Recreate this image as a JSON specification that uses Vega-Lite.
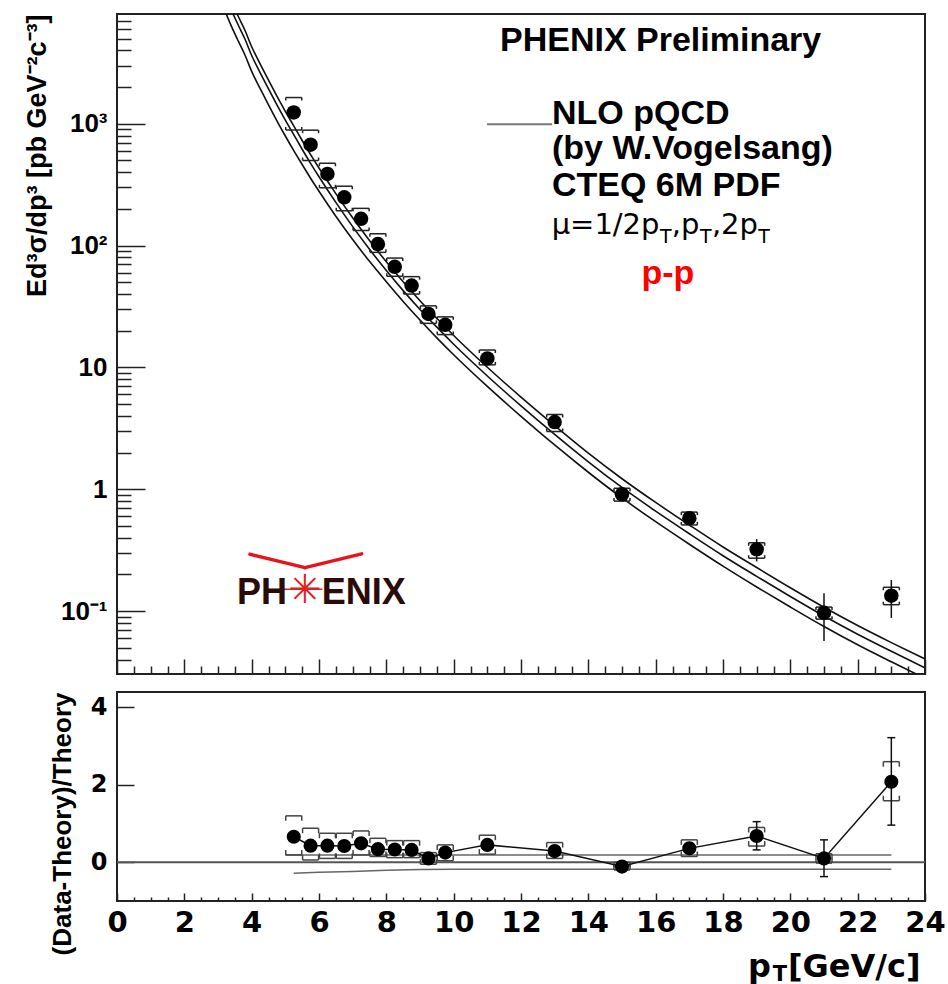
{
  "$schema": "https://vega.github.io/schema/vega-lite/v6.json",
  "padding": {"left": 21, "top": 13, "right": 5, "bottom": 5},
  "background": "white",
  "spacing": 15,
  "config": {
    "view": {"stroke": "#222", "strokeWidth": 2},
    "axis": {"domain": false, "grid": false, "tickColor": "#222", "tickWidth": 1.5, "labelColor": "#000", "titleColor": "#000"}
  },
  "datasets": {
    "theory": [
      {"pt": 3.2, "lo": 8497, "mid": 11482, "hi": 13549},
      {"pt": 3.4, "lo": 6298, "mid": 8511, "hi": 10043},
      {"pt": 3.6, "lo": 4778, "mid": 6457, "hi": 7619},
      {"pt": 3.8, "lo": 3667, "mid": 4955, "hi": 5847},
      {"pt": 4.0, "lo": 2687, "mid": 3631, "hi": 4285},
      {"pt": 4.25, "lo": 1946, "mid": 2630, "hi": 3103},
      {"pt": 4.5, "lo": 1427, "mid": 1928, "hi": 2275},
      {"pt": 4.75, "lo": 1057, "mid": 1429, "hi": 1686},
      {"pt": 5.0, "lo": 793, "mid": 1072, "hi": 1265},
      {"pt": 5.25, "lo": 602, "mid": 813, "hi": 959},
      {"pt": 5.5, "lo": 463, "mid": 617, "hi": 728},
      {"pt": 5.75, "lo": 357, "mid": 473, "hi": 558},
      {"pt": 6.0, "lo": 279, "mid": 367, "hi": 433},
      {"pt": 6.5, "lo": 174, "mid": 226, "hi": 267},
      {"pt": 7.0, "lo": 112, "mid": 143, "hi": 169},
      {"pt": 7.5, "lo": 74.2, "mid": 93.3, "hi": 110},
      {"pt": 8.0, "lo": 50.5, "mid": 62.4, "hi": 73.6},
      {"pt": 8.5, "lo": 34.8, "mid": 42.7, "hi": 50.4},
      {"pt": 9.0, "lo": 24.5, "mid": 29.9, "hi": 35.3},
      {"pt": 9.5, "lo": 17.5, "mid": 21.4, "hi": 25.3},
      {"pt": 10, "lo": 12.7, "mid": 15.5, "hi": 18.3},
      {"pt": 11, "lo": 6.98, "mid": 8.51, "hi": 10.04},
      {"pt": 12, "lo": 3.97, "mid": 4.84, "hi": 5.71},
      {"pt": 13, "lo": 2.31, "mid": 2.82, "hi": 3.33},
      {"pt": 14, "lo": 1.38, "mid": 1.68, "hi": 1.98},
      {"pt": 15, "lo": 0.849, "mid": 1.035, "hi": 1.221},
      {"pt": 16, "lo": 0.542, "mid": 0.661, "hi": 0.78},
      {"pt": 17, "lo": 0.354, "mid": 0.4315, "hi": 0.509},
      {"pt": 18, "lo": 0.234, "mid": 0.285, "hi": 0.336},
      {"pt": 19, "lo": 0.158, "mid": 0.193, "hi": 0.228},
      {"pt": 20, "lo": 0.1081, "mid": 0.1318, "hi": 0.1555},
      {"pt": 21, "lo": 0.0748, "mid": 0.0912, "hi": 0.1076},
      {"pt": 22, "lo": 0.053, "mid": 0.0646, "hi": 0.0762},
      {"pt": 23, "lo": 0.0384, "mid": 0.0468, "hi": 0.0552},
      {"pt": 24, "lo": 0.0281, "mid": 0.0343, "hi": 0.0405}
    ],
    "pts": [
      {"pt": 5.25, "xs": 1238, "st_lo": 1200, "st_hi": 1276, "sy_lo": 888, "sy_hi": 1640},
      {"pt": 5.75, "xs": 673, "st_lo": 652, "st_hi": 694, "sy_lo": 499, "sy_hi": 885},
      {"pt": 6.25, "xs": 387, "st_lo": 374, "st_hi": 400, "sy_lo": 298, "sy_hi": 474},
      {"pt": 6.75, "xs": 249, "st_lo": 240, "st_hi": 258, "sy_lo": 193, "sy_hi": 307},
      {"pt": 7.25, "xs": 166, "st_lo": 160, "st_hi": 172, "sy_lo": 133, "sy_hi": 202},
      {"pt": 7.75, "xs": 103, "st_lo": 99, "st_hi": 107, "sy_lo": 88, "sy_hi": 125},
      {"pt": 8.25, "xs": 67, "st_lo": 64.3, "st_hi": 69.7, "sy_lo": 56, "sy_hi": 79},
      {"pt": 8.75, "xs": 47, "st_lo": 45, "st_hi": 49, "sy_lo": 40, "sy_hi": 55.6},
      {"pt": 9.25, "xs": 27.5, "st_lo": 26.2, "st_hi": 28.8, "sy_lo": 23, "sy_hi": 32},
      {"pt": 9.75, "xs": 22.4, "st_lo": 21.3, "st_hi": 23.5, "sy_lo": 18.6, "sy_hi": 26},
      {"pt": 11, "xs": 11.85, "st_lo": 11.2, "st_hi": 12.5, "sy_lo": 10.5, "sy_hi": 13.9},
      {"pt": 13, "xs": 3.56, "st_lo": 3.33, "st_hi": 3.79, "sy_lo": 2.98, "sy_hi": 4.11},
      {"pt": 15, "xs": 0.91, "st_lo": 0.83, "st_hi": 0.99, "sy_lo": 0.8, "sy_hi": 1.02},
      {"pt": 17, "xs": 0.58, "st_lo": 0.53, "st_hi": 0.63, "sy_lo": 0.51, "sy_hi": 0.65},
      {"pt": 19, "xs": 0.322, "st_lo": 0.256, "st_hi": 0.39, "sy_lo": 0.272, "sy_hi": 0.364},
      {"pt": 21, "xs": 0.097, "st_lo": 0.057, "st_hi": 0.14, "sy_lo": 0.086, "sy_hi": 0.108},
      {"pt": 23, "xs": 0.134, "st_lo": 0.088, "st_hi": 0.18, "sy_lo": 0.113, "sy_hi": 0.157}
    ],
    "ratio": [
      {"pt": 5.25, "r": 0.66, "r_lo": 0.61, "r_hi": 0.71, "s_lo": 0.19, "s_hi": 1.2},
      {"pt": 5.75, "r": 0.43, "r_lo": 0.39, "r_hi": 0.47, "s_lo": 0.06, "s_hi": 0.88},
      {"pt": 6.25, "r": 0.43, "r_lo": 0.39, "r_hi": 0.47, "s_lo": 0.1, "s_hi": 0.75},
      {"pt": 6.75, "r": 0.42, "r_lo": 0.38, "r_hi": 0.46, "s_lo": 0.1, "s_hi": 0.75},
      {"pt": 7.25, "r": 0.49, "r_lo": 0.44, "r_hi": 0.54, "s_lo": 0.19, "s_hi": 0.81},
      {"pt": 7.75, "r": 0.34, "r_lo": 0.29, "r_hi": 0.39, "s_lo": 0.15, "s_hi": 0.62},
      {"pt": 8.25, "r": 0.33, "r_lo": 0.28, "r_hi": 0.38, "s_lo": 0.12, "s_hi": 0.56},
      {"pt": 8.75, "r": 0.32, "r_lo": 0.27, "r_hi": 0.37, "s_lo": 0.12, "s_hi": 0.56},
      {"pt": 9.25, "r": 0.1, "r_lo": 0.04, "r_hi": 0.16, "s_lo": -0.05, "s_hi": 0.25},
      {"pt": 9.75, "r": 0.25, "r_lo": 0.19, "r_hi": 0.31, "s_lo": 0.04, "s_hi": 0.45},
      {"pt": 11, "r": 0.45, "r_lo": 0.36, "r_hi": 0.54, "s_lo": 0.21, "s_hi": 0.7},
      {"pt": 13, "r": 0.29, "r_lo": 0.2, "r_hi": 0.38, "s_lo": 0.1, "s_hi": 0.51},
      {"pt": 15, "r": -0.11, "r_lo": -0.19, "r_hi": -0.03, "s_lo": -0.2, "s_hi": 0.0},
      {"pt": 17, "r": 0.36, "r_lo": 0.25, "r_hi": 0.47, "s_lo": 0.15, "s_hi": 0.58},
      {"pt": 19, "r": 0.68, "r_lo": 0.32, "r_hi": 1.05, "s_lo": 0.42, "s_hi": 0.9},
      {"pt": 21, "r": 0.1, "r_lo": -0.37, "r_hi": 0.58, "s_lo": -0.02, "s_hi": 0.22},
      {"pt": 23, "r": 2.08, "r_lo": 0.96, "r_hi": 3.22, "s_lo": 1.59, "s_hi": 2.6}
    ],
    "var": [
      {"pt": 5.0, "r": 0.19, "band": "hi"},
      {"pt": 23, "r": 0.19, "band": "hi"},
      {"pt": 5.25, "r": -0.28, "band": "lo"},
      {"pt": 6, "r": -0.26, "band": "lo"},
      {"pt": 7, "r": -0.235, "band": "lo"},
      {"pt": 8, "r": -0.205, "band": "lo"},
      {"pt": 9, "r": -0.185, "band": "lo"},
      {"pt": 10, "r": -0.18, "band": "lo"},
      {"pt": 23, "r": -0.18, "band": "lo"}
    ]
  },
  "vconcat": [
    {
      "width": 808,
      "height": 660,
      "resolve": {"axis": {"x": "independent", "y": "independent"}},
      "layer": [
        {
          "data": {"name": "theory"},
          "mark": {"type": "line", "color": "#111", "strokeWidth": 1.6, "clip": true, "interpolate": "monotone"},
          "encoding": {
            "x": {"field": "pt", "type": "quantitative", "scale": {"domain": [0, 24], "nice": false, "zero": false},
              "axis": {"orient": "bottom", "values": [0, 2, 4, 6, 8, 10, 12, 14, 16, 18, 20, 22, 24], "tickSize": -15, "labels": false, "title": null}},
            "y": {"field": "mid", "type": "quantitative", "scale": {"type": "log", "domain": [0.0305, 7950], "nice": false},
              "axis": {"orient": "left", "values": [0.1, 1, 10, 100, 1000], "tickSize": -28,
                "labelExpr": "datum.value >= 999 ? '10³' : datum.value >= 99 ? '10²' : datum.value >= 9 ? '10' : datum.value >= 0.9 ? '1' : '10⁻¹'",
                "labelFont": "Liberation Sans", "labelFontWeight": "bold", "labelFontSize": 26, "labelPadding": 38, "labelOverlap": false, "labelFlush": false,
                "title": "Ed³σ/dp³ [pb GeV⁻²c⁻³]", "titleFont": "Liberation Sans", "titleFontWeight": "bold", "titleFontSize": 27,
                "titleAngle": -90, "titleAlign": "right", "titleBaseline": "middle", "titleX": -80, "titleY": 0}}
          }
        },
        {
          "data": {"name": "theory"},
          "mark": {"type": "line", "color": "#111", "strokeWidth": 1.6, "clip": true, "interpolate": "monotone"},
          "encoding": {
            "x": {"field": "pt", "type": "quantitative", "scale": {"domain": [0, 24], "nice": false, "zero": false},
              "axis": {"orient": "bottom", "values": [0.5, 1, 1.5, 2.5, 3, 3.5, 4.5, 5, 5.5, 6.5, 7, 7.5, 8.5, 9, 9.5, 10.5, 11, 11.5, 12.5, 13, 13.5, 14.5, 15, 15.5, 16.5, 17, 17.5, 18.5, 19, 19.5, 20.5, 21, 21.5, 22.5, 23, 23.5], "tickSize": -8, "labels": false, "title": null}},
            "y": {"field": "hi", "type": "quantitative", "scale": {"type": "log", "domain": [0.0305, 7950], "nice": false},
              "axis": {"orient": "left", "values": [0.04, 0.05, 0.06, 0.07, 0.08, 0.09, 0.2, 0.3, 0.4, 0.5, 0.6, 0.7, 0.8, 0.9, 2, 3, 4, 5, 6, 7, 8, 9, 20, 30, 40, 50, 60, 70, 80, 90, 200, 300, 400, 500, 600, 700, 800, 900, 2000, 3000, 4000, 5000, 6000, 7000], "tickSize": -14, "labels": false, "title": null}}
          }
        },
        {
          "data": {"name": "theory"},
          "mark": {"type": "line", "color": "#111", "strokeWidth": 1.6, "clip": true, "interpolate": "monotone"},
          "encoding": {
            "x": {"field": "pt", "type": "quantitative", "axis": null},
            "y": {"field": "lo", "type": "quantitative", "axis": null}
          }
        },
        {
          "data": {"name": "pts"},
          "mark": {"type": "rule", "color": "#222", "strokeWidth": 1.5, "xOffset": -8, "x2Offset": 8},
          "encoding": {"x": {"field": "pt", "type": "quantitative", "axis": null}, "x2": {"field": "pt"}, "y": {"field": "sy_hi", "type": "quantitative", "axis": null}}
        },
        {
          "data": {"name": "pts"},
          "mark": {"type": "rule", "color": "#222", "strokeWidth": 1.5, "xOffset": -8, "x2Offset": 8},
          "encoding": {"x": {"field": "pt", "type": "quantitative", "axis": null}, "x2": {"field": "pt"}, "y": {"field": "sy_lo", "type": "quantitative", "axis": null}}
        },
        {
          "data": {"name": "pts"},
          "mark": {"type": "rule", "color": "#222", "strokeWidth": 1.5, "xOffset": -8, "y2Offset": 3},
          "encoding": {"x": {"field": "pt", "type": "quantitative", "axis": null}, "y": {"field": "sy_hi", "type": "quantitative", "axis": null}, "y2": {"field": "sy_hi"}}
        },
        {
          "data": {"name": "pts"},
          "mark": {"type": "rule", "color": "#222", "strokeWidth": 1.5, "xOffset": 8, "y2Offset": 3},
          "encoding": {"x": {"field": "pt", "type": "quantitative", "axis": null}, "y": {"field": "sy_hi", "type": "quantitative", "axis": null}, "y2": {"field": "sy_hi"}}
        },
        {
          "data": {"name": "pts"},
          "mark": {"type": "rule", "color": "#222", "strokeWidth": 1.5, "xOffset": -8, "y2Offset": -3},
          "encoding": {"x": {"field": "pt", "type": "quantitative", "axis": null}, "y": {"field": "sy_lo", "type": "quantitative", "axis": null}, "y2": {"field": "sy_lo"}}
        },
        {
          "data": {"name": "pts"},
          "mark": {"type": "rule", "color": "#222", "strokeWidth": 1.5, "xOffset": 8, "y2Offset": -3},
          "encoding": {"x": {"field": "pt", "type": "quantitative", "axis": null}, "y": {"field": "sy_lo", "type": "quantitative", "axis": null}, "y2": {"field": "sy_lo"}}
        },
        {
          "data": {"name": "pts"},
          "mark": {"type": "rule", "color": "#111", "strokeWidth": 1.5},
          "encoding": {"x": {"field": "pt", "type": "quantitative", "axis": null}, "y": {"field": "st_lo", "type": "quantitative", "axis": null}, "y2": {"field": "st_hi"}}
        },
        {
          "data": {"name": "pts"},
          "mark": {"type": "point", "shape": "circle", "filled": true, "color": "#000", "opacity": 1, "size": 210},
          "encoding": {"x": {"field": "pt", "type": "quantitative", "axis": null}, "y": {"field": "xs", "type": "quantitative", "axis": null}}
        },
        {
          "data": {"values": [{}]},
          "mark": {"type": "text", "text": "PHENIX Preliminary", "font": "Liberation Sans", "fontWeight": "bold", "fontSize": 34, "align": "left", "baseline": "alphabetic", "color": "#000"},
          "encoding": {"x": {"datum": 11.376, "type": "quantitative", "axis": null}, "y": {"datum": 3945, "type": "quantitative", "axis": null}}
        },
        {
          "data": {"values": [{}]},
          "mark": {"type": "rule", "color": "#777", "strokeWidth": 2},
          "encoding": {"x": {"datum": 10.99, "type": "quantitative", "axis": null}, "x2": {"datum": 12.92}, "y": {"datum": 988, "type": "quantitative", "axis": null}}
        },
        {
          "data": {"values": [{}]},
          "mark": {"type": "text", "text": "NLO pQCD", "font": "Liberation Sans", "fontWeight": "bold", "fontSize": 34, "align": "left", "baseline": "alphabetic", "color": "#000"},
          "encoding": {"x": {"datum": 12.92, "type": "quantitative", "axis": null}, "y": {"datum": 1000, "type": "quantitative", "axis": null}}
        },
        {
          "data": {"values": [{}]},
          "mark": {"type": "text", "text": "(by W.Vogelsang)", "font": "Liberation Sans", "fontWeight": "bold", "fontSize": 34, "align": "left", "baseline": "alphabetic", "color": "#000"},
          "encoding": {"x": {"datum": 12.92, "type": "quantitative", "axis": null}, "y": {"datum": 510, "type": "quantitative", "axis": null}}
        },
        {
          "data": {"values": [{}]},
          "mark": {"type": "text", "text": "CTEQ 6M PDF", "font": "Liberation Sans", "fontWeight": "bold", "fontSize": 34, "align": "left", "baseline": "alphabetic", "color": "#000"},
          "encoding": {"x": {"datum": 12.92, "type": "quantitative", "axis": null}, "y": {"datum": 255, "type": "quantitative", "axis": null}}
        },
        {
          "data": {"values": [{}]},
          "mark": {"type": "text", "text": "μ=1/2p", "font": "DejaVu Sans", "fontSize": 29, "align": "left", "baseline": "alphabetic", "color": "#000"},
          "encoding": {"x": {"datum": 12.91, "type": "quantitative", "axis": null}, "y": {"datum": 123.8, "type": "quantitative", "axis": null}}
        },
        {
          "data": {"values": [{}]},
          "mark": {"type": "text", "text": ",p", "font": "DejaVu Sans", "fontSize": 29, "align": "left", "baseline": "alphabetic", "color": "#000"},
          "encoding": {"x": {"datum": 16.48, "type": "quantitative", "axis": null}, "y": {"datum": 123.8, "type": "quantitative", "axis": null}}
        },
        {
          "data": {"values": [{}]},
          "mark": {"type": "text", "text": ",2p", "font": "DejaVu Sans", "fontSize": 29, "align": "left", "baseline": "alphabetic", "color": "#000"},
          "encoding": {"x": {"datum": 17.67, "type": "quantitative", "axis": null}, "y": {"datum": 123.8, "type": "quantitative", "axis": null}}
        },
        {
          "data": {"values": [{}]},
          "mark": {"type": "text", "text": "T", "font": "DejaVu Sans", "fontSize": 19, "align": "left", "baseline": "alphabetic", "color": "#000"},
          "encoding": {"x": {"datum": 16.13, "type": "quantitative", "axis": null}, "y": {"datum": 105.7, "type": "quantitative", "axis": null}}
        },
        {
          "data": {"values": [{}]},
          "mark": {"type": "text", "text": "T", "font": "DejaVu Sans", "fontSize": 19, "align": "left", "baseline": "alphabetic", "color": "#000"},
          "encoding": {"x": {"datum": 17.32, "type": "quantitative", "axis": null}, "y": {"datum": 105.7, "type": "quantitative", "axis": null}}
        },
        {
          "data": {"values": [{}]},
          "mark": {"type": "text", "text": "T", "font": "DejaVu Sans", "fontSize": 19, "align": "left", "baseline": "alphabetic", "color": "#000"},
          "encoding": {"x": {"datum": 19.05, "type": "quantitative", "axis": null}, "y": {"datum": 105.7, "type": "quantitative", "axis": null}}
        },
        {
          "data": {"values": [{}]},
          "mark": {"type": "text", "text": "p-p", "font": "Liberation Sans", "fontWeight": "bold", "fontSize": 34, "align": "left", "baseline": "alphabetic", "color": "#ff0000"},
          "encoding": {"x": {"datum": 15.58, "type": "quantitative", "axis": null}, "y": {"datum": 48.1, "type": "quantitative", "axis": null}}
        },
        {
          "data": {"values": [{}]},
          "mark": {"type": "rule", "color": "#e8141c", "strokeWidth": 3.5, "strokeCap": "round"},
          "encoding": {"x": {"datum": 3.95, "type": "quantitative", "axis": null}, "x2": {"datum": 5.584}, "y": {"datum": 0.293, "type": "quantitative", "axis": null}, "y2": {"datum": 0.2275}}
        },
        {
          "data": {"values": [{}]},
          "mark": {"type": "rule", "color": "#e8141c", "strokeWidth": 3.5, "strokeCap": "round"},
          "encoding": {"x": {"datum": 5.584, "type": "quantitative", "axis": null}, "x2": {"datum": 7.268}, "y": {"datum": 0.2275, "type": "quantitative", "axis": null}, "y2": {"datum": 0.295}}
        },
        {
          "data": {"values": [{}]},
          "mark": {"type": "rule", "color": "#d22", "strokeWidth": 1.5},
          "encoding": {"x": {"datum": 4.9, "type": "quantitative", "axis": null}, "x2": {"datum": 6.1}, "y": {"datum": 0.151, "type": "quantitative", "axis": null}}
        },
        {
          "data": {"values": [{}]},
          "mark": {"type": "text", "text": "PH", "font": "Liberation Sans", "fontWeight": "bold", "fontSize": 36, "align": "left", "baseline": "alphabetic", "color": "#2b0a0a"},
          "encoding": {"x": {"datum": 3.564, "type": "quantitative", "axis": null}, "y": {"datum": 0.1138, "type": "quantitative", "axis": null}}
        },
        {
          "data": {"values": [{}]},
          "mark": {"type": "text", "text": "ENIX", "font": "Liberation Sans", "fontWeight": "bold", "fontSize": 36, "align": "left", "baseline": "alphabetic", "color": "#2b0a0a"},
          "encoding": {"x": {"datum": 6.08, "type": "quantitative", "axis": null}, "y": {"datum": 0.1138, "type": "quantitative", "axis": null}}
        },
        {
          "data": {"values": [{}]},
          "mark": {"type": "text", "text": "✳", "font": "DejaVu Sans", "fontSize": 40, "align": "center", "baseline": "middle", "color": "#e02020"},
          "encoding": {"x": {"datum": 5.584, "type": "quantitative", "axis": null}, "y": {"datum": 0.146, "type": "quantitative", "axis": null}}
        }
      ]
    },
    {
      "width": 808,
      "height": 209,
      "resolve": {"axis": {"x": "independent", "y": "independent"}},
      "layer": [
        {
          "data": {"values": [{}]},
          "mark": {"type": "rule", "color": "#555", "strokeWidth": 2},
          "encoding": {"y": {"datum": 0, "type": "quantitative", "scale": {"domain": [-1, 4.4], "nice": false, "zero": false}, "axis": null}}
        },
        {
          "data": {"name": "var"},
          "mark": {"type": "line", "color": "#666", "strokeWidth": 1.5},
          "encoding": {
            "x": {"field": "pt", "type": "quantitative", "scale": {"domain": [0, 24], "nice": false, "zero": false}, "axis": null},
            "y": {"field": "r", "type": "quantitative", "axis": null},
            "detail": {"field": "band"}
          }
        },
        {
          "data": {"name": "ratio"},
          "mark": {"type": "rule", "color": "#444", "strokeWidth": 1.5, "xOffset": -8, "x2Offset": 8},
          "encoding": {"x": {"field": "pt", "type": "quantitative", "axis": null}, "x2": {"field": "pt"}, "y": {"field": "s_hi", "type": "quantitative", "axis": null}}
        },
        {
          "data": {"name": "ratio"},
          "mark": {"type": "rule", "color": "#444", "strokeWidth": 1.5, "xOffset": -8, "x2Offset": 8},
          "encoding": {"x": {"field": "pt", "type": "quantitative", "axis": null}, "x2": {"field": "pt"}, "y": {"field": "s_lo", "type": "quantitative", "axis": null}}
        },
        {
          "data": {"name": "ratio"},
          "mark": {"type": "rule", "color": "#444", "strokeWidth": 1.5, "xOffset": -8, "y2Offset": 5},
          "encoding": {"x": {"field": "pt", "type": "quantitative", "axis": null}, "y": {"field": "s_hi", "type": "quantitative", "axis": null}, "y2": {"field": "s_hi"}}
        },
        {
          "data": {"name": "ratio"},
          "mark": {"type": "rule", "color": "#444", "strokeWidth": 1.5, "xOffset": 8, "y2Offset": 5},
          "encoding": {"x": {"field": "pt", "type": "quantitative", "axis": null}, "y": {"field": "s_hi", "type": "quantitative", "axis": null}, "y2": {"field": "s_hi"}}
        },
        {
          "data": {"name": "ratio"},
          "mark": {"type": "rule", "color": "#444", "strokeWidth": 1.5, "xOffset": -8, "y2Offset": -5},
          "encoding": {"x": {"field": "pt", "type": "quantitative", "axis": null}, "y": {"field": "s_lo", "type": "quantitative", "axis": null}, "y2": {"field": "s_lo"}}
        },
        {
          "data": {"name": "ratio"},
          "mark": {"type": "rule", "color": "#444", "strokeWidth": 1.5, "xOffset": 8, "y2Offset": -5},
          "encoding": {"x": {"field": "pt", "type": "quantitative", "axis": null}, "y": {"field": "s_lo", "type": "quantitative", "axis": null}, "y2": {"field": "s_lo"}}
        },
        {
          "data": {"name": "ratio"},
          "mark": {"type": "rule", "color": "#111", "strokeWidth": 1.5},
          "encoding": {"x": {"field": "pt", "type": "quantitative", "axis": null}, "y": {"field": "r_lo", "type": "quantitative", "axis": null}, "y2": {"field": "r_hi"}}
        },
        {
          "data": {"name": "ratio"},
          "mark": {"type": "rule", "color": "#111", "strokeWidth": 1.5, "xOffset": -4, "x2Offset": 4},
          "encoding": {"x": {"field": "pt", "type": "quantitative", "axis": null}, "x2": {"field": "pt"}, "y": {"field": "r_lo", "type": "quantitative", "axis": null}}
        },
        {
          "data": {"name": "ratio"},
          "mark": {"type": "rule", "color": "#111", "strokeWidth": 1.5, "xOffset": -4, "x2Offset": 4},
          "encoding": {"x": {"field": "pt", "type": "quantitative", "axis": null}, "x2": {"field": "pt"}, "y": {"field": "r_hi", "type": "quantitative", "axis": null}}
        },
        {
          "data": {"name": "ratio"},
          "mark": {"type": "line", "color": "#111", "strokeWidth": 1.5},
          "encoding": {
            "x": {"field": "pt", "type": "quantitative",
              "axis": {"orient": "bottom", "values": [0.5, 1, 1.5, 2.5, 3, 3.5, 4.5, 5, 5.5, 6.5, 7, 7.5, 8.5, 9, 9.5, 10.5, 11, 11.5, 12.5, 13, 13.5, 14.5, 15, 15.5, 16.5, 17, 17.5, 18.5, 19, 19.5, 20.5, 21, 21.5, 22.5, 23, 23.5], "tickSize": -4, "labels": false, "title": null}},
            "y": {"field": "r", "type": "quantitative", "axis": null}
          }
        },
        {
          "data": {"name": "ratio"},
          "mark": {"type": "point", "shape": "circle", "filled": true, "color": "#000", "opacity": 1, "size": 200},
          "encoding": {
            "x": {"field": "pt", "type": "quantitative",
              "axis": {"orient": "bottom", "values": [0, 2, 4, 6, 8, 10, 12, 14, 16, 18, 20, 22, 24], "tickSize": -8,
                "labelFont": "DejaVu Sans", "labelFontWeight": "bold", "labelFontSize": 29, "labelPadding": 15, "labelOverlap": false, "labelFlush": false, "title": null}},
            "y": {"field": "r", "type": "quantitative",
              "axis": {"orient": "left", "values": [0, 2, 4], "tickSize": -17,
                "labelFont": "DejaVu Sans", "labelFontWeight": "bold", "labelFontSize": 24, "labelPadding": 27, "labelOverlap": false, "labelFlush": false,
                "title": "(Data-Theory)/Theory", "titleFont": "Liberation Sans", "titleFontWeight": "bold", "titleFontSize": 26,
                "titleAngle": -90, "titleAlign": "right", "titleBaseline": "middle", "titleX": -55, "titleY": 0}}
          }
        },
        {
          "data": {"values": [{}]},
          "mark": {"type": "text", "text": "p", "font": "DejaVu Sans", "fontWeight": "bold", "fontSize": 32, "align": "left", "baseline": "alphabetic", "color": "#000"},
          "encoding": {"x": {"datum": 18.74, "type": "quantitative", "axis": null}, "y": {"datum": -2.964, "type": "quantitative", "axis": null}}
        },
        {
          "data": {"values": [{}]},
          "mark": {"type": "text", "text": "T", "font": "DejaVu Sans", "fontWeight": "bold", "fontSize": 21, "align": "left", "baseline": "alphabetic", "color": "#000"},
          "encoding": {"x": {"datum": 19.48, "type": "quantitative", "axis": null}, "y": {"datum": -3.06, "type": "quantitative", "axis": null}}
        },
        {
          "data": {"values": [{}]},
          "mark": {"type": "text", "text": "[GeV/c]", "font": "DejaVu Sans", "fontWeight": "bold", "fontSize": 32, "align": "left", "baseline": "alphabetic", "color": "#000"},
          "encoding": {"x": {"datum": 19.93, "type": "quantitative", "axis": null}, "y": {"datum": -2.964, "type": "quantitative", "axis": null}}
        }
      ]
    }
  ]
}
